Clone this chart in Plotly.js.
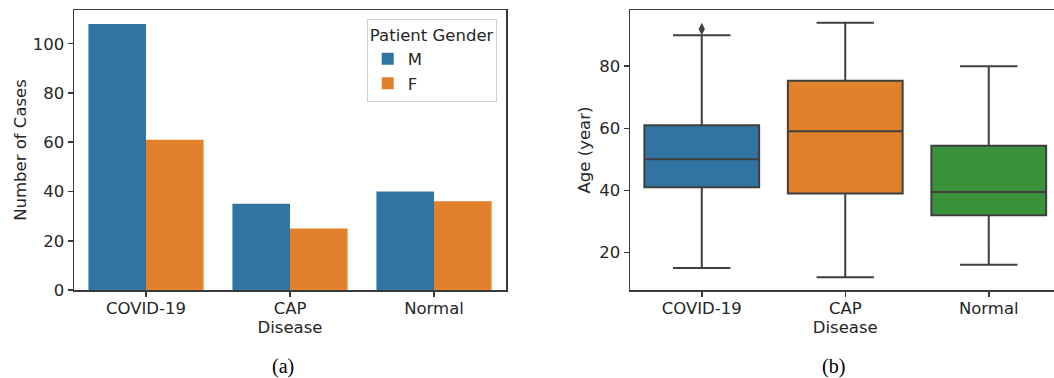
<!DOCTYPE html>
<html>
<head>
<meta charset="utf-8">
<script src="https://cdn.plot.ly/plotly-3.0.1.min.js"></script>
<style>
  html, body { margin: 0; padding: 0; overflow: hidden; background: #fff; width: 1054px; height: 378px; }
  #chart { width: 1062px; height: 378px; }
</style>
</head>
<body>
<div id="chart"></div>
<script>
// ---- data ----
var diseases = ["COVID-19", "CAP", "Normal"];
var genders = ["M", "F"];
var casesMale = [108, 35, 40];
var casesFemale = [61, 25, 36];

var ageQ1 = [41, 39, 32];
var ageMedian = [50, 59, 39.5];
var ageQ3 = [61, 75.3, 54.4];
var ageLowerWhisker = [15, 12, 16];
var ageUpperWhisker = [90, 94, 80];
var outlierDisease = ["COVID-19"];
var outlierAge = [92];

var genderColors = ["#3274a1", "#e1812c"];
var boxColors = ["#3274a1", "#e1812c", "#3a923a"];

var textColor = "#262626";
var axisColor = "#3a3a3a";
var boxLine = "#3f3f3f";
var font = "DejaVu Sans, sans-serif";
var fs = 16.5;

var traces = [
  {type: "bar", name: genders[0], x: diseases, y: casesMale, marker: {color: genderColors[0], line: {width: 0}}, xaxis: "x", yaxis: "y"},
  {type: "bar", name: genders[1], x: diseases, y: casesFemale, marker: {color: genderColors[1], line: {width: 0}}, xaxis: "x", yaxis: "y"}
];

diseases.forEach(function (d, i) {
  traces.push({
    type: "box",
    x: [d],
    q1: [ageQ1[i]], median: [ageMedian[i]], q3: [ageQ3[i]],
    lowerfence: [ageLowerWhisker[i]], upperfence: [ageUpperWhisker[i]],
    width: 0.8,
    whiskerwidth: 0.5,
    fillcolor: boxColors[i],
    line: {color: boxLine, width: 2},
    showlegend: false,
    hoverinfo: "skip",
    xaxis: "x2", yaxis: "y2"
  });
});

traces.push({
  type: "scatter", mode: "markers", x: outlierDisease, y: outlierAge,
  marker: {symbol: "diamond-tall", size: 9, color: boxLine},
  showlegend: false, xaxis: "x2", yaxis: "y2"
});

var plotW = 1062 - 74;
function px(x) { return (x - 74) / plotW; }

var axisCommon = {
  showline: true, mirror: true, linecolor: axisColor, linewidth: 1.5,
  ticks: "outside", ticklen: 5, tickwidth: 1.5, tickcolor: axisColor,
  showgrid: false, zeroline: false,
  tickfont: {family: font, size: fs, color: textColor}
};

var layout = {
  width: 1062, height: 378,
  margin: {l: 74, r: 0, t: 10, b: 88},
  paper_bgcolor: "#fff", plot_bgcolor: "#fff",
  font: {family: font, size: fs, color: textColor},
  barmode: "group", bargap: 0.2, bargroupgap: 0,
  boxmode: "overlay",
  xaxis: Object.assign({}, axisCommon, {
    domain: [0, px(506)], type: "category", categoryorder: "array", categoryarray: diseases,
    range: [-0.5, 2.5], ticklabelstandoff: -2,
    title: {text: "Disease", font: {family: font, size: fs, color: textColor}, standoff: 1}
  }),
  yaxis: Object.assign({}, axisCommon, {
    range: [0, 113.7], tickvals: [0, 20, 40, 60, 80, 100],
    title: {text: "Number of Cases", font: {family: font, size: fs, color: textColor}, standoff: 2}
  }),
  xaxis2: Object.assign({}, axisCommon, {
    domain: [px(630), px(1060.5)], anchor: "y2", type: "category", categoryorder: "array", categoryarray: diseases,
    range: [-0.5, 2.5], ticklabelstandoff: -2,
    title: {text: "Disease", font: {family: font, size: fs, color: textColor}, standoff: 1}
  }),
  yaxis2: Object.assign({}, axisCommon, {
    anchor: "x2", range: [7.9, 98.1], tickvals: [20, 40, 60, 80],
    title: {text: "Age (year)", font: {family: font, size: fs, color: textColor}, standoff: 4}
  }),
  showlegend: true,
  legend: {
    x: px(496.7), xanchor: "right", y: 1 - 9 / 280, yanchor: "top",
    bgcolor: "rgba(255,255,255,0.8)", bordercolor: "#d0d0d0", borderwidth: 1,
    font: {family: font, size: fs, color: textColor},
    title: {text: "Patient Gender", side: "top center", font: {family: font, size: fs, color: textColor}},
    traceorder: "normal"
  },
  annotations: [
    {text: "(a)", xref: "paper", yref: "paper", x: px(283), y: (290 - 366) / 280, xanchor: "center", yanchor: "middle",
     showarrow: false, font: {family: "Liberation Serif, serif", size: 20, color: "#000"}},
    {text: "(b)", xref: "paper", yref: "paper", x: px(833), y: (290 - 366) / 280, xanchor: "center", yanchor: "middle",
     showarrow: false, font: {family: "Liberation Serif, serif", size: 20, color: "#000"}}
  ]
};

Plotly.newPlot("chart", traces, layout, {displayModeBar: false, staticPlot: true});
</script>
</body>
</html>
